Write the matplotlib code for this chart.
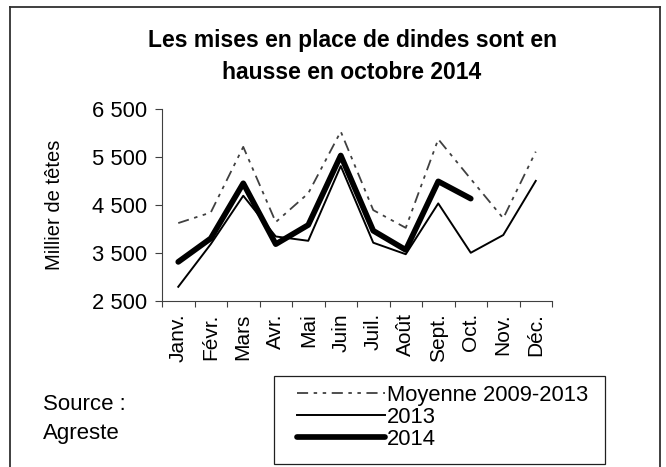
import matplotlib
matplotlib.use("Agg")
import matplotlib.pyplot as plt
from matplotlib.lines import Line2D
from matplotlib.patches import Rectangle
from matplotlib.ticker import FuncFormatter

plt.rcParams["font.family"] = ["Liberation Sans", "DejaVu Sans"]
plt.rcParams["lines.scale_dashes"] = False

mois = ["Janv.", "Févr.", "Mars", "Avr.", "Mai", "Juin", "Juil.", "Août",
        "Sept.", "Oct.", "Nov.", "Déc."]
# milliers de têtes
moyenne = [4120, 4340, 5710, 4140, 4740, 6030, 4390, 4020, 5870, 5040, 4220, 5610]
an2013 = [2790, 3680, 4690, 3840, 3750, 5310, 3710, 3470, 4530, 3500, 3870, 5000]
an2014 = [3310, 3800, 4950, 3680, 4080, 5530, 3960, 3560, 4990, 4630]
yticks = [2500, 3500, 4500, 5500, 6500]

W, H = 666, 467
fig = plt.figure(figsize=(W / 100, H / 100), dpi=100)
ax = fig.add_axes([162 / W, 1 - 300.7 / H, 390 / W, 191.7 / H])

x = range(len(mois))
l_moy, = ax.plot(x, moyenne, color="#404040", lw=1.3,
                 linestyle=(0, (8, 4, 2.5, 4, 2.5, 4)), label="Moyenne 2009-2013")
l_13, = ax.plot(x, an2013, color="black", lw=1.4, label="2013")
l_14, = ax.plot(range(len(an2014)), an2014, color="black", lw=4.1,
                solid_capstyle="round", label="2014", zorder=3)

ax.set_xlim(-0.5, len(mois) - 0.5)
ax.set_ylim(2500, 6500)
ax.set_yticks(yticks)
ax.yaxis.set_major_formatter(FuncFormatter(lambda v, p: f"{int(v):,}".replace(",", " ")))
ax.set_xticks([i - 0.5 for i in range(len(mois) + 1)])
ax.set_xticklabels([])
ax.set_xticks(list(x), minor=True)
ax.set_xticklabels(mois, minor=True, rotation=90, fontsize=15)
ax.tick_params(axis="x", which="major", direction="out", length=4.5, color="#404040")
ax.tick_params(axis="x", which="minor", length=0, pad=9)
ax.tick_params(axis="y", direction="out", length=5, color="#404040", labelsize=15.8, pad=6)
for s in ["top", "right"]:
    ax.spines[s].set_visible(False)
for s in ["left", "bottom"]:
    ax.spines[s].set_color("#404040")

fig.text(54 / W, 1 - 204.5 / H, "Millier de têtes", rotation=90, ha="center",
         va="center", fontsize=14.5)

fig.text(352 / W, 1 - 47 / H, "Les mises en place de dindes sont en", ha="center",
         va="baseline", fontsize=16.5, fontweight="bold")
fig.text(352 / W, 1 - 79 / H, "hausse en octobre 2014", ha="center",
         va="baseline", fontsize=16.5, fontweight="bold")

fig.text(43 / W, 1 - 405 / H, "Source :", fontsize=16, va="center")
fig.text(43 / W, 1 - 433 / H, "Agreste", fontsize=16, va="center")

leg = fig.legend(handles=[l_moy, l_13, l_14], loc="center left",
                 bbox_to_anchor=(297 / W, 1 - 417.5 / H), bbox_transform=fig.transFigure,
                 handlelength=4.0, handletextpad=0.08, fontsize=15.8, frameon=False,
                 borderpad=0, labelspacing=0.05, borderaxespad=0)
fig.add_artist(Rectangle((274 / W, 1 - 464 / H), 331 / W, 88 / H, transform=fig.transFigure,
                         fill=False, edgecolor="#202020", lw=0.9))

# cadre autour du graphique
for xs, ys in [([10 / W, 10 / W], [-0.1, 1 - 7 / H]), ([10 / W, 660 / W], [1 - 7 / H, 1 - 7 / H]),
               ([660 / W, 660 / W], [1 - 7 / H, -0.1])]:
    fig.add_artist(Line2D(xs, ys, transform=fig.transFigure, color="#303030", lw=1.3))

fig.savefig("out.png", dpi=100)
